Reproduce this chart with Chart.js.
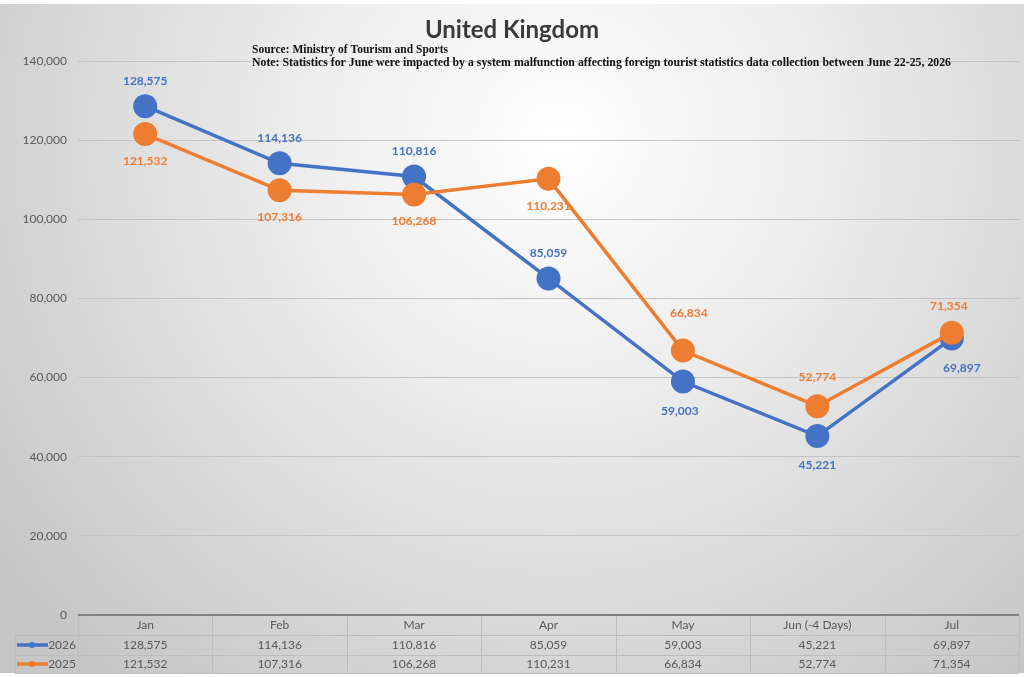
<!DOCTYPE html>
<html>
<head>
<meta charset="utf-8">
<script src="https://cdn.jsdelivr.net/npm/chart.js@4.4.1/dist/chart.umd.min.js"></script>
<style>
html,body{margin:0;padding:0;background:#fff;}
#wrap{position:relative;width:1024px;height:677px;}
canvas{display:block;}
</style>
</head>
<body>
<div id="wrap"><canvas id="c" width="1024" height="677"></canvas></div>
<script>
const categories = ["Jan","Feb","Mar","Apr","May","Jun (-4 Days)","Jul"];
const series2026 = [128575,114136,110816,85059,59003,45221,69897];
const series2025 = [121532,107316,106268,110231,66834,52774,71354];
const seriesNames = ["2026","2025"];
const yTicks = [0,20000,40000,60000,80000,100000,120000,140000];
const titleText = "United Kingdom";
const noteLines = ["Source: Ministry of Tourism and Sports",
  "Note: Statistics for June were impacted by a system malfunction affecting foreign tourist statistics data collection between June 22-25, 2026"];

const BLUE = "#4472C4", ORANGE = "#ED7D31", TXT = "#595959";
const fmt = v => v.toLocaleString("en-US");
// data label placement (style only): [dx, dy] from each point
const labelOffsets2026 = [[0,-25],[0,-25],[0,-25],[0,-25],[-3,30],[0,29],[10,30]];
const labelOffsets2025 = [[0,27],[0,27],[0,27],[0,27],[6,-37],[0,-29],[-3,-27]];

const bgPlugin = {
  id: "bg",
  beforeDraw(chart){
    const ctx = chart.ctx;
    ctx.save();
    ctx.fillStyle = "#ffffff";
    ctx.fillRect(0,0,1024,677);
    const g = ctx.createRadialGradient(560,140,0,560,140,700);
    g.addColorStop(0,"#ffffff");
    g.addColorStop(0.35,"#eeeeee");
    g.addColorStop(1,"#c6c6c6");
    ctx.fillStyle = g;
    ctx.fillRect(0,4,1024,669);
    ctx.restore();
  }
};

const textPlugin = {
  id: "texts",
  afterDraw(chart){
    const ctx = chart.ctx;
    ctx.save();
    ctx.fillStyle = "#3a3a3a";
    ctx.font = "bold 24px Lato";
    ctx.textAlign = "center";
    ctx.textBaseline = "middle";
    ctx.fillText(titleText, 512, 30);
    ctx.fillStyle = "#111";
    ctx.font = "bold 12px 'Liberation Serif'";
    ctx.textAlign = "left";
    ctx.textBaseline = "middle";
    ctx.fillText(noteLines[0], 252, 50, 196);
    ctx.fillText(noteLines[1], 252, 63, 699);
    ctx.restore();
  }
};

const labelPlugin = {
  id: "labels",
  afterDatasetsDraw(chart){
    const ctx = chart.ctx;
    ctx.save();
    ctx.font = "bold 12px Lato";
    ctx.textAlign = "center";
    ctx.textBaseline = "middle";
    const sets = [[0,labelOffsets2026,BLUE],[1,labelOffsets2025,ORANGE]];
    sets.forEach(([di,offs,col])=>{
      const meta = chart.getDatasetMeta(di);
      ctx.fillStyle = col;
      meta.data.forEach((pt,i)=>{
        const v = chart.data.datasets[di].data[i];
        ctx.fillText(fmt(v), pt.x + offs[i][0], pt.y + offs[i][1]);
      });
    });
    ctx.restore();
  }
};

const tablePlugin = {
  id: "table",
  afterDraw(chart){
    const ctx = chart.ctx;
    const xs = chart.scales.x;
    const area = chart.chartArea;
    const n = categories.length;
    const w = (area.right-area.left)/n;
    const top = area.bottom, r1 = top+20, r2 = top+40, bot = top+58;
    ctx.save();
    ctx.strokeStyle = "#bdbdbd";
    ctx.lineWidth = 1;
    ctx.beginPath();
    ctx.moveTo(15, r1+0.5); ctx.lineTo(area.right, r1+0.5);
    ctx.moveTo(15, r2+0.5); ctx.lineTo(area.right, r2+0.5);
    ctx.moveTo(15, bot+0.5); ctx.lineTo(area.right, bot+0.5);
    for(let i=0;i<=n;i++){
      const x = Math.round(area.left + i*w)+0.5;
      ctx.moveTo(x, top); ctx.lineTo(x, bot);
    }
    ctx.moveTo(15.5, r1); ctx.lineTo(15.5, bot);
    ctx.stroke();
    ctx.strokeStyle = "#808080";
    ctx.lineWidth = 2;
    ctx.beginPath();
    ctx.moveTo(area.left, top); ctx.lineTo(area.right, top);
    ctx.stroke();
    ctx.fillStyle = TXT;
    ctx.font = "12px Lato";
    ctx.textAlign = "center";
    ctx.textBaseline = "middle";
    categories.forEach((c,i)=>{
      const cx = xs.getPixelForValue(i);
      ctx.fillText(c, cx, top+10);
      ctx.fillText(fmt(series2026[i]), cx, r1+10);
      ctx.fillText(fmt(series2025[i]), cx, r2+9);
    });
    [[r1+10,BLUE,seriesNames[0]],[r2+9,ORANGE,seriesNames[1]]].forEach(([y,col,name])=>{
      ctx.strokeStyle = col; ctx.lineWidth = 3.5;
      ctx.beginPath(); ctx.moveTo(17,y); ctx.lineTo(48,y); ctx.stroke();
      ctx.fillStyle = col;
      ctx.beginPath(); ctx.arc(32,y,3,0,Math.PI*2); ctx.fill();
      ctx.fillStyle = TXT;
      ctx.font = "12px Lato";
      ctx.textAlign = "right";
      ctx.fillText(name, 76, y);
    });
    ctx.restore();
  }
};

new Chart(document.getElementById("c"), {
  type: "line",
  data: {
    labels: categories,
    datasets: [
      {label: seriesNames[0], data: series2026, borderColor: BLUE, backgroundColor: BLUE,
       borderWidth: 3.5, pointRadius: 12, pointHoverRadius: 12, pointBorderWidth: 0, order: 1},
      {label: seriesNames[1], data: series2025, borderColor: ORANGE, backgroundColor: ORANGE,
       borderWidth: 3.5, pointRadius: 12, pointHoverRadius: 12, pointBorderWidth: 0, order: 0}
    ]
  },
  options: {
    responsive: false,
    animation: false,
    devicePixelRatio: 1,
    layout: {autoPadding: false, padding: {top: 61, left: 0, right: 5, bottom: 54}},
    plugins: {legend: {display: false}, tooltip: {enabled: false}, title: {display: false}},
    scales: {
      x: {offset: true, ticks: {display: false}, grid: {display: false}, border: {display: false}},
      y: {
        min: 0, max: 140000,
        afterBuildTicks(scale){ scale.ticks = yTicks.map(v=>({value:v})); },
        afterFit(scale){ scale.width = 78; },
        ticks: {color: TXT, font: {family: "Lato", size: 12}, padding: 11,
                callback: v => fmt(v)},
        grid: {color: "#c4c4c4", lineWidth: 1, drawTicks: false},
        border: {display: false}
      }
    }
  },
  plugins: [bgPlugin, labelPlugin, tablePlugin, textPlugin]
});
</script>
</body>
</html>
